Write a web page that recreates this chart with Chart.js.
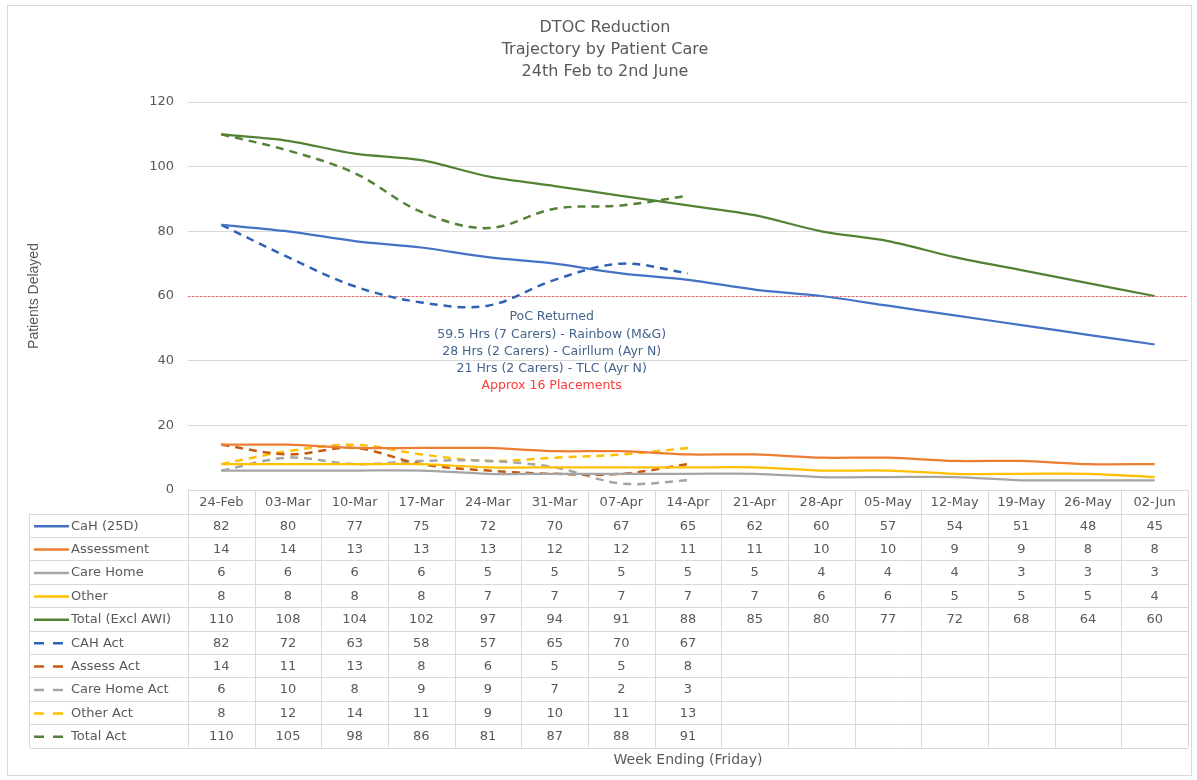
<!DOCTYPE html>
<html>
<head>
<meta charset="utf-8">
<title>DTOC Reduction</title>
<script src="https://cdn.jsdelivr.net/npm/chart.js@4/dist/chart.umd.min.js"></script>
<style>
  html, body { margin: 0; padding: 0; background: #ffffff; }
  canvas { display: block; }
</style>
</head>
<body>
<canvas id="dtoc" width="1197" height="780"></canvas>
<script>
// Week-ending dates (Fridays)
const weeks = ['24-Feb','03-Mar','10-Mar','17-Mar','24-Mar','31-Mar','07-Apr','14-Apr',
               '21-Apr','28-Apr','05-May','12-May','19-May','26-May','02-Jun'];

// Planned trajectory
const cahPlan        = [82, 80, 77, 75, 72, 70, 67, 65, 62, 60, 57, 54, 51, 48, 45];
const assessmentPlan = [14, 14, 13, 13, 13, 12, 12, 11, 11, 10, 10, 9, 9, 8, 8];
const careHomePlan   = [6, 6, 6, 6, 5, 5, 5, 5, 5, 4, 4, 4, 3, 3, 3];
const otherPlan      = [8, 8, 8, 8, 7, 7, 7, 7, 7, 6, 6, 5, 5, 5, 4];
const totalPlan      = [110, 108, 104, 102, 97, 94, 91, 88, 85, 80, 77, 72, 68, 64, 60];

// Actuals recorded so far
const cahActual        = [82, 72, 63, 58, 57, 65, 70, 67];
const assessActual     = [14, 11, 13, 8, 6, 5, 5, 8];
const careHomeActual   = [6, 10, 8, 9, 9, 7, 2, 3];
const otherActual      = [8, 12, 14, 11, 9, 10, 11, 13];
const totalActual      = [110, 105, 98, 86, 81, 87, 88, 91];

// Y axis ticks and the target level
const yTickValues = [0, 20, 40, 60, 80, 100, 120];
const targetLevel = 60;

// Notes shown on the plot
const titleLines = ['DTOC Reduction', 'Trajectory by Patient Care', '24th Feb to 2nd June'];
const pocNotes = ['PoC Returned', '59.5 Hrs (7 Carers) - Rainbow (M&G)',
                  '28 Hrs (2 Carers) - Cairllum (Ayr N)', '21 Hrs (2 Carers) - TLC (Ayr N)'];
const placementNote = 'Approx 16 Placements';
const xAxisTitle = 'Week Ending (Friday)';
const yAxisTitle = 'Patients Delayed';

const TEXT = '#595959';
const GRID = '#D9D9D9';
const FONT = '"DejaVu Sans", Verdana, sans-serif';

function solid(label, data, color) {
  return { label, data, borderColor: color, backgroundColor: color, borderWidth: 2.25,
           pointRadius: 0, pointHoverRadius: 0, tension: 0.3, fill: false };
}
function dashed(label, data, color) {
  return { label, data, borderColor: color, backgroundColor: color, borderWidth: 2.5,
           borderDash: [8, 6], pointRadius: 0, pointHoverRadius: 0, tension: 0.35, fill: false };
}

const datasets = [
  solid('CaH (25D)', cahPlan, '#4472C4'),
  solid('Assessment', assessmentPlan, '#ED7D31'),
  solid('Care Home', careHomePlan, '#A5A5A5'),
  solid('Other', otherPlan, '#FFC000'),
  solid('Total (Excl AWI)', totalPlan, '#548235'),
  dashed('CAH Act', cahActual, '#2F62B5'),
  dashed('Assess Act', assessActual, '#C55A11'),
  dashed('Care Home Act', careHomeActual, '#A5A5A5'),
  dashed('Other Act', otherActual, '#FFC000'),
  dashed('Total Act', totalActual, '#538135')
];

// Outer frame, title, target line and notes
const decorPlugin = {
  id: 'decor',
  beforeDraw(chart) {
    const { ctx, width, height } = chart;
    ctx.save();
    ctx.fillStyle = '#ffffff';
    ctx.fillRect(0, 0, width, height);
    ctx.strokeStyle = GRID;
    ctx.lineWidth = 1;
    ctx.strokeRect(7.5, 5.5, width - 13, height - 10);
    ctx.fillStyle = TEXT;
    ctx.font = '16px ' + FONT;
    ctx.textAlign = 'center';
    ctx.textBaseline = 'middle';
    titleLines.forEach((t, i) => ctx.fillText(t, 605, 28 + i * 22));
    ctx.restore();
  },
  beforeDatasetsDraw(chart) {
    const { ctx, chartArea, scales: { x, y } } = chart;
    const ty = Math.round(y.getPixelForValue(targetLevel)) + 0.5;
    ctx.save();
    ctx.strokeStyle = '#FF5B5B';
    ctx.lineWidth = 1;
    ctx.setLineDash([2, 2]);
    ctx.beginPath();
    ctx.moveTo(chartArea.left, ty);
    ctx.lineTo(chartArea.right, ty);
    ctx.stroke();
    ctx.setLineDash([]);

    // notes, anchored on the 31-Mar column
    const cx = x.getPixelForValue(5) - 3;
    let ny = y.getPixelForValue(53.5);
    ctx.font = '12.5px ' + FONT;
    ctx.textAlign = 'center';
    ctx.textBaseline = 'middle';
    ctx.fillStyle = '#44648C';
    pocNotes.forEach(t => { ctx.fillText(t, cx, ny); ny += 17.3; });
    ctx.fillStyle = '#FF3B3B';
    ctx.fillText(placementNote, cx, ny);
    ctx.restore();
  }
};

// Data table under the plot, aligned to the category scale
const tablePlugin = {
  id: 'dataTable',
  afterDraw(chart) {
    const { ctx, chartArea, scales: { x } } = chart;
    const n = weeks.length;
    const colW = (chartArea.right - chartArea.left) / n;
    const headTop = Math.round(chartArea.bottom) + 0.5;
    const headBot = headTop + 23;
    const rowH = 23.4;
    const keyLeft = 29.5;
    const sets = chart.data.datasets;
    const tableBot = headBot + sets.length * rowH;
    const right = chartArea.right;

    ctx.save();
    ctx.strokeStyle = GRID;
    ctx.lineWidth = 1;
    ctx.beginPath();
    ctx.moveTo(chartArea.left, headTop); ctx.lineTo(right, headTop);
    for (let r = 0; r <= sets.length; r++) {
      const yy = Math.round(headBot + r * rowH) + 0.5;
      ctx.moveTo(keyLeft, yy); ctx.lineTo(right, yy);
    }
    ctx.moveTo(keyLeft, headBot); ctx.lineTo(keyLeft, tableBot);
    for (let i = 0; i <= n; i++) {
      const bx = Math.round(x.getPixelForValue(Math.min(i, n - 1)) + (i === n ? colW / 2 : -colW / 2)) + 0.5;
      ctx.moveTo(bx, headTop); ctx.lineTo(bx, tableBot);
    }
    ctx.stroke();

    ctx.fillStyle = TEXT;
    ctx.font = '13px ' + FONT;
    ctx.textAlign = 'center';
    ctx.textBaseline = 'middle';
    weeks.forEach((w, i) => ctx.fillText(w, x.getPixelForValue(i), (headTop + headBot) / 2 + 1));

    sets.forEach((ds, r) => {
      const cy = headBot + r * rowH + rowH / 2 + 1;
      ctx.fillStyle = TEXT;
      ctx.textAlign = 'center';
      ds.data.forEach((v, i) => {
        if (v !== null && v !== undefined) ctx.fillText(String(v), x.getPixelForValue(i), cy);
      });
      // legend key
      ctx.strokeStyle = ds.borderColor;
      ctx.lineWidth = 2.5;
      ctx.beginPath();
      if (ds.borderDash) {
        ctx.moveTo(34, cy); ctx.lineTo(44, cy);
        ctx.moveTo(53, cy); ctx.lineTo(63, cy);
      } else {
        ctx.moveTo(34, cy); ctx.lineTo(69, cy);
      }
      ctx.stroke();
      ctx.textAlign = 'left';
      ctx.fillText(ds.label, 71, cy);
    });

    ctx.textAlign = 'center';
    ctx.font = '14px ' + FONT;
    ctx.fillText(xAxisTitle, (chartArea.left + chartArea.right) / 2, 760);
    ctx.restore();
  }
};

new Chart(document.getElementById('dtoc'), {
  type: 'line',
  data: { labels: weeks, datasets },
  options: {
    responsive: false,
    animation: false,
    devicePixelRatio: 1,
    layout: { padding: { left: 12, right: 9, top: 102, bottom: 290 } },
    plugins: { legend: { display: false }, title: { display: false }, tooltip: { enabled: false } },
    scales: {
      x: { type: 'category', offset: true, display: false },
      y: {
        min: 0, max: 120,
        afterBuildTicks(scale) { scale.ticks = yTickValues.map(v => ({ value: v })); },
        afterFit(scale) { scale.width = 176; },
        border: { display: false },
        grid: {
          color: ctx => ctx.tick && ctx.tick.value === 0 ? 'rgba(0,0,0,0)' : GRID,
          drawTicks: false, lineWidth: 1
        },
        ticks: { color: TEXT, padding: 14, font: { family: FONT, size: 13 } },
        title: {
          display: true, text: yAxisTitle, color: TEXT,
          font: { family: '"Liberation Sans", Arial, sans-serif', size: 14 },
          padding: { top: 14, bottom: 0 }
        }
      }
    }
  },
  plugins: [decorPlugin, tablePlugin]
});
</script>
</body>
</html>
